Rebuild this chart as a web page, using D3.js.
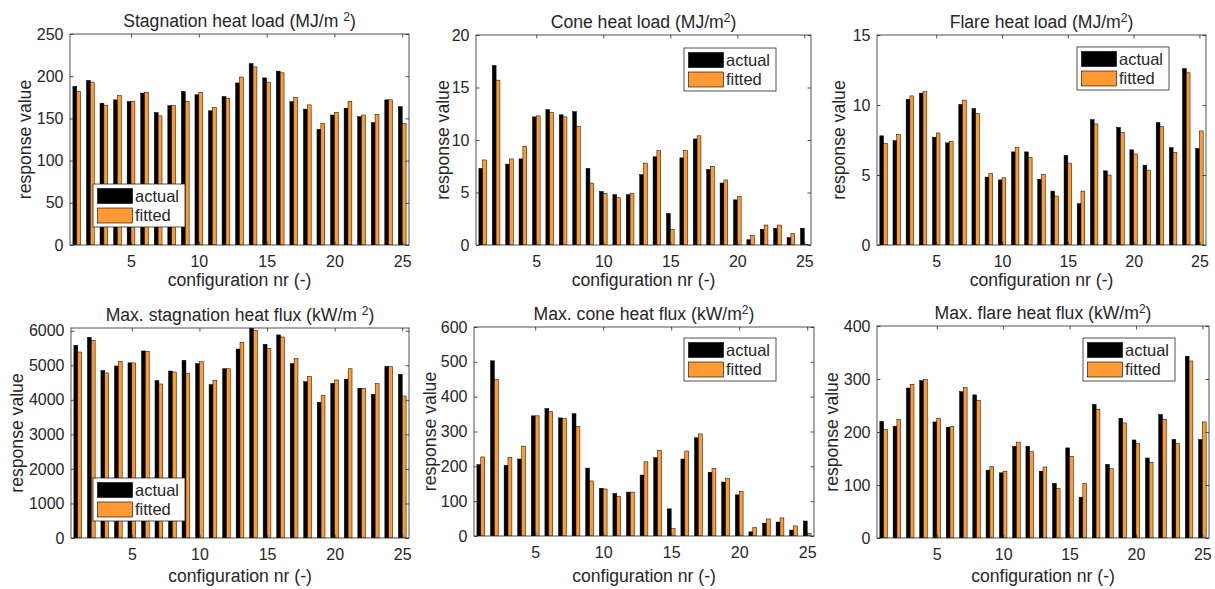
<!DOCTYPE html>
<html>
<head>
<meta charset="utf-8">
<script src="https://cdn.jsdelivr.net/npm/d3@7"></script>
<style>
  body { margin: 0; background: #fff; }
  text { font-family: "Liberation Sans", Arial, Helvetica, sans-serif; fill: #262626; }
</style>
</head>
<body>
<svg id="chart" width="1215" height="589"></svg>
<script>
// configuration numbers on the x axis
const configs = [1,2,3,4,5,6,7,8,9,10,11,12,13,14,15,16,17,18,19,20,21,22,23,24,25];
const xTicks = [5,10,15,20,25];
const seriesNames = ["actual", "fitted"];

// titles (text before the superscript 2)
const titles = [
  "Stagnation heat load (MJ/m ",
  "Cone heat load (MJ/m",
  "Flare heat load (MJ/m",
  "Max. stagnation heat flux (kW/m ",
  "Max. cone heat flux (kW/m",
  "Max. flare heat flux (kW/m"
];

// values
const stagLoadActual = [188,195,168,172,170,180,157,165,182,178,159,176,192,215,198,206,170,161,137,154,162,152,145,172,164];
const stagLoadFitted = [182,193,165,177,170,181,153,165,170,181,163,174,199,211,193,204,175,166,144,157,170,154,155,172,144];

const coneLoadActual = [7.3,17.1,7.7,8.2,12.2,12.9,12.4,12.7,7.3,5.1,4.8,4.8,6.7,8.4,3.0,8.3,10.1,7.2,5.9,4.3,0.5,1.5,1.6,0.7,1.6];
const coneLoadFitted = [8.1,15.7,8.2,9.4,12.3,12.6,12.2,11.3,5.9,4.9,4.5,4.9,7.8,9.0,1.5,9.0,10.4,7.5,6.2,4.6,0.9,1.9,1.9,1.1,0.05];

const flareLoadActual = [7.8,7.45,10.4,10.85,7.7,7.3,10.05,9.75,4.85,4.65,6.65,6.65,4.7,3.85,6.4,2.95,8.95,5.3,8.4,6.8,5.7,8.75,6.95,12.6,6.9];
const flareLoadFitted = [7.25,7.9,10.65,10.95,8.0,7.4,10.35,9.4,5.1,4.8,6.95,6.25,5.05,3.5,5.85,3.85,8.65,5.0,8.05,6.5,5.35,8.45,6.6,12.3,8.15];

const stagFluxActual = [5580,5810,4850,4980,5070,5415,4560,4835,5145,5050,4440,4900,5470,6150,5610,5880,5050,4525,3930,4480,4600,4335,4160,4970,4740];
const stagFluxFitted = [5385,5725,4780,5115,5070,5405,4460,4805,4760,5105,4565,4900,5665,6015,5485,5820,5195,4680,4130,4575,4900,4335,4470,4960,4110];

const coneFluxActual = [205,503,203,221,345,366,339,351,195,137,122,126,175,225,78,221,282,183,155,118,12,37,40,17,43];
const coneFluxFitted = [227,449,226,258,345,358,337,315,158,135,113,126,213,245,21,244,293,194,166,128,24,49,52,29,8];

const flareFluxActual = [220,211,283,297,219,209,276,270,128,123,173,173,126,103,170,77,252,139,226,185,151,233,186,343,186];
const flareFluxFitted = [205,224,290,299,226,211,284,260,135,126,181,163,134,93,154,103,243,131,217,178,143,224,178,334,219];

const yTicks = [
  [0,50,100,150,200,250],
  [0,5,10,15,20],
  [0,5,10,15],
  [0,1000,2000,3000,4000,5000,6000],
  [0,100,200,300,400,500,600],
  [0,100,200,300,400]
];
const yMax = [250, 20, 15, 6080, 600, 400];

const actualSets = [stagLoadActual, coneLoadActual, flareLoadActual, stagFluxActual, coneFluxActual, flareFluxActual];
const fittedSets = [stagLoadFitted, coneLoadFitted, flareLoadFitted, stagFluxFitted, coneFluxFitted, flareFluxFitted];

// layout of the six axes (pixels)
const boxes = [
  {L: 70,  R: 409,  T: 34,  B: 245, yl: 25,  xl: 286},
  {L: 476, R: 811,  T: 35,  B: 245, yl: 443, xl: 286},
  {L: 877, R: 1206, T: 35,  B: 245, yl: 839, xl: 286},
  {L: 71,  R: 409,  T: 328, B: 538, yl: 17,  xl: 582},
  {L: 474, R: 814,  T: 327, B: 536, yl: 430, xl: 582},
  {L: 877, R: 1209, T: 326, B: 538, yl: 832, xl: 582}
];
const legendPos = [[93,184],[684,48],[1077,47],[93,478],[684,338],[1083,338]];
const colors = ["#000000", "#ff9933"];
const axisColor = "#262626";

const svg = d3.select("#chart");

boxes.forEach(function(b, k) {
  const x = d3.scaleLinear().domain([0.5, 25.5]).range([b.L, b.R]);
  const y = d3.scaleLinear().domain([0, yMax[k]]).range([b.B, b.T]);
  const g = svg.append("g");

  g.append("clipPath").attr("id", "clip" + k)
    .append("rect")
    .attr("x", b.L).attr("y", b.T)
    .attr("width", b.R - b.L).attr("height", b.B - b.T);

  // bars: black left of the config number, orange right of it
  const barW = 0.286;
  const bars = g.append("g").attr("clip-path", "url(#clip" + k + ")");
  [actualSets[k], fittedSets[k]].forEach(function(vals, s) {
    bars.selectAll("rect.s" + s)
      .data(vals)
      .enter()
      .append("rect")
      .attr("class", "s" + s)
      .attr("x", function(d, i) { return x(configs[i] - barW + s * barW); })
      .attr("width", x(0.5 + barW) - x(0.5))
      .attr("y", function(d) { return y(d); })
      .attr("height", function(d) { return y(0) - y(d); })
      .attr("fill", colors[s])
      .attr("stroke", "#000")
      .attr("stroke-width", 0.5);
  });

  // axes with inward ticks on all four sides
  const tick = 3.5;
  const xAx = g.append("g").attr("transform", "translate(0," + b.B + ")")
    .call(d3.axisBottom(x).tickValues(xTicks).tickSizeInner(-tick).tickSizeOuter(0).tickPadding(10.5));
  const xTop = g.append("g").attr("transform", "translate(0," + b.T + ")")
    .call(d3.axisTop(x).tickValues(xTicks).tickSizeInner(-tick).tickSizeOuter(0).tickFormat(""));
  const yAx = g.append("g").attr("transform", "translate(" + b.L + ",0)")
    .call(d3.axisLeft(y).tickValues(yTicks[k]).tickFormat(d3.format("~g")).tickSizeInner(-tick).tickSizeOuter(0).tickPadding(6.5));
  const yRight = g.append("g").attr("transform", "translate(" + b.R + ",0)")
    .call(d3.axisRight(y).tickValues(yTicks[k]).tickSizeInner(-tick).tickSizeOuter(0).tickFormat(""));

  [xAx, xTop, yAx, yRight].forEach(function(a) {
    a.select(".domain").remove();
    a.selectAll("line").attr("stroke", axisColor).attr("stroke-width", 0.8);
    a.selectAll("text").style("font-size", "16px").attr("fill", axisColor);
  });

  g.append("rect")
    .attr("x", b.L).attr("y", b.T)
    .attr("width", b.R - b.L).attr("height", b.B - b.T)
    .attr("fill", "none").attr("stroke", axisColor).attr("stroke-width", 0.8);

  // title with superscript
  const t = g.append("text")
    .attr("x", (b.L + b.R) / 2)
    .attr("y", b.T - 7.5)
    .attr("text-anchor", "middle")
    .style("font-size", "17.6px")
    .attr("fill", "#000");
  t.append("tspan").text(titles[k]);
  t.append("tspan").attr("dy", -6).style("font-size", "12px").text("2");
  t.append("tspan").attr("dy", 6).text(")");

  // axis labels
  g.append("text")
    .attr("transform", "translate(" + b.yl + "," + (b.T + b.B) / 2 + ") rotate(-90)")
    .attr("text-anchor", "middle")
    .attr("dy", "0.35em")
    .style("font-size", "17.6px")
    .text("response value");

  g.append("text")
    .attr("x", (b.L + b.R) / 2)
    .attr("y", b.xl)
    .attr("text-anchor", "middle")
    .style("font-size", "17.6px")
    .text("configuration nr (-)");

  // legend
  const lg = g.append("g").attr("transform", "translate(" + legendPos[k][0] + "," + legendPos[k][1] + ")");
  lg.append("rect").attr("width", 92).attr("height", 43)
    .attr("fill", "#fff").attr("stroke", axisColor).attr("stroke-width", 0.8);
  seriesNames.forEach(function(name, s) {
    lg.append("rect")
      .attr("x", 4.5).attr("y", 4.5 + s * 19.5)
      .attr("width", 35).attr("height", 15)
      .attr("fill", colors[s]).attr("stroke", "#000").attr("stroke-width", 0.6);
    lg.append("text")
      .attr("x", 42).attr("y", 12 + s * 19.5)
      .attr("dy", "0.35em")
      .style("font-size", "16.5px")
      .attr("fill", "#000")
      .text(name);
  });
});
</script>
</body>
</html>
